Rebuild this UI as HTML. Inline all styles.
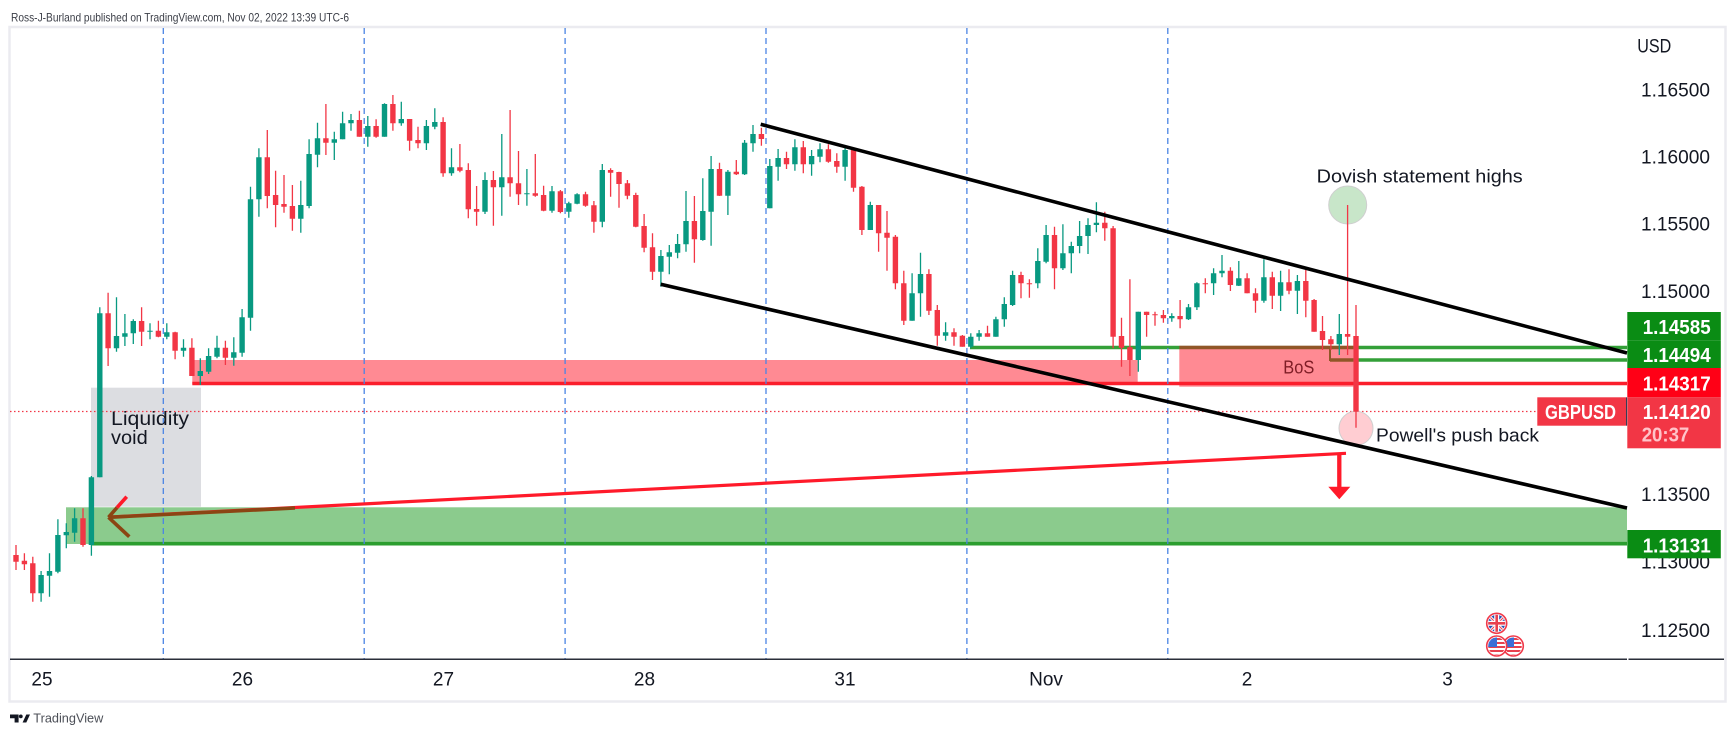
<!DOCTYPE html>
<html><head><meta charset="utf-8"><style>
html,body{margin:0;padding:0;background:#fff;}
svg{display:block;font-family:"Liberation Sans",sans-serif;}
</style></head><body>
<svg width="1735" height="738" viewBox="0 0 1735 738" xmlns="http://www.w3.org/2000/svg">
<rect x="0" y="0" width="1735" height="738" fill="#fff"/>
<text x="11" y="21.5" font-size="12" fill="#3b3e47" textLength="338" lengthAdjust="spacingAndGlyphs">Ross-J-Burland published on TradingView.com, Nov 02, 2022 13:39 UTC-6</text>
<rect x="9.5" y="27" width="1716" height="674.5" fill="none" stroke="#ebebf0" stroke-width="2.5"/>

<!-- zones -->
<rect x="66" y="507.3" width="1561" height="36.7" fill="rgb(139,203,141)"/>
<rect x="91" y="387.7" width="110" height="119" fill="#dcdde1"/>
<rect x="192.3" y="360" width="945.4" height="24" fill="rgba(255,0,20,0.46)"/>
<g stroke="#33a038" stroke-width="3.6">
<line x1="970" y1="347.5" x2="1627" y2="347.5"/>
<line x1="1330" y1="360" x2="1627" y2="360"/>
<line x1="1330" y1="348" x2="1330" y2="361" stroke-width="2"/>
<line x1="91.7" y1="543.7" x2="1627" y2="543.7" stroke="#2b9e2f"/>
</g>
<rect x="1179.3" y="345.7" width="174" height="41" fill="rgba(255,0,20,0.46)"/>
<line x1="192.3" y1="383.5" x2="1627" y2="383.5" stroke="#fb1e2c" stroke-width="3.5"/>

<!-- vertical dashed -->
<g stroke="#4a84e4" stroke-width="1.3" stroke-dasharray="6 4">
<line x1="163.3" y1="28" x2="163.3" y2="659"/>
<line x1="364.2" y1="28" x2="364.2" y2="659"/>
<line x1="565.1" y1="28" x2="565.1" y2="659"/>
<line x1="766" y1="28" x2="766" y2="659"/>
<line x1="966.9" y1="28" x2="966.9" y2="659"/>
<line x1="1167.8" y1="28" x2="1167.8" y2="659"/>
</g>
<line x1="10" y1="411.5" x2="1537" y2="411.5" stroke="#f23645" stroke-width="1.2" stroke-dasharray="1.5 2.5"/>

<!-- circles -->
<circle cx="1347.7" cy="205" r="19" fill="#c8e6c9" stroke="#cfcfcf" stroke-width="1"/>
<circle cx="1356" cy="428.3" r="17" fill="#ffcdd2" stroke="#cfcfcf" stroke-width="1"/>

<!-- candles -->
<path fill="none" stroke="#089981" stroke-width="1.3" d="M41.1 571V601.7M49.5 553.3V596.7M57.9 519.3V573.3M66.3 523.3V548.3M74.6 508.3V541.7M91.4 476V555.7M99.8 307.3V477.3M116.5 297.3V351.7M124.9 314V346M133.3 319.3V344M150 323.3V339.3M166.8 323.3V339.3M183.5 339.3V356.7M200.3 358.3V385M208.6 348.3V374M217 335.7V358.3M233.8 337.3V365.7M242.1 309V356.7M250.5 186.7V330.7M258.9 148.3V216.7M300.8 180.7V232.7M309.1 139.3V208.3M317.5 122.7V167.3M334.3 131.7V160M342.6 111.7V139.3M351 114V130.7M367.8 116V146.7M384.5 103.3V136.7M401.3 101.7V125.7M426.4 120V150M434.8 108.3V129.3M451.5 148.3V175.7M485 172.3V214M501.8 134V215.7M526.9 169V205.7M552 186V212.7M568.8 201.7V217.7M577.1 193.3V204.3M602.3 164V227.3M660.9 250V286.7M669.3 245V274.3M677.6 234V258.3M686 191V251.7M702.8 178.3V240.7M711.1 156V245.7M727.9 170V215M744.6 140V175M753 125V151.7M769.8 159V208.3M778.1 149V180.7M794.9 139.3V170.7M811.6 150V175.7M820 143.3V162.3M845.1 146.7V180.7M870.3 201.7V230M912.1 273.3V320.7M920.5 252.7V316.7M945.6 322.3V340.7M970.8 333.3V348.3M979.1 330V340.7M995.9 316.7V336.7M1004.3 297.3V326.7M1012.6 270.7V306M1037.8 248.3V288.3M1046.1 225V263.3M1062.9 224.3V270M1071.3 241.7V273.3M1079.6 221V253.3M1088 218.3V254M1096.4 202.3V232.3M1138.3 311.7V371.7M1171.8 313.3V321.7M1188.5 304V320M1196.9 282.3V310M1213.6 268.3V295M1222 255V277.3M1238.8 261V286M1263.9 259.3V302.7M1280.6 270.7V311M1297.4 275V314M1339.3 314V355"/>
<path fill="none" stroke="#089981" stroke-width="5.4" d="M41.1 575V593.3M49.5 571V575.7M57.9 535V571.7M66.3 532V535.3M74.6 518.3V532.7M91.4 477.3V545M99.8 313.3V477.3M116.5 336V348.3M124.9 333.3V336.7M133.3 321V333.3M150 330.7V331.7M166.8 332.3V336.7M183.5 347.7V350.7M200.3 371V376M208.6 356V371.7M217 347.7V356.7M233.8 352.3V357.7M242.1 317.3V352.7M250.5 199.3V317.7M258.9 157.3V199.3M300.8 205V218.7M309.1 154V206M317.5 138.3V154.7M334.3 139.3V142.7M342.6 123.3V139.3M351 120V123.3M367.8 126V136.7M384.5 104V136.7M401.3 119V123.3M426.4 126V143.3M434.8 122V126.7M451.5 167.3V173.3M485 180V211.7M501.8 177.3V187.3M526.9 193.3V194.3M552 191.3V210.7M568.8 203.3V211.7M577.1 194.3V203.7M602.3 170V221.7M660.9 256V271.7M669.3 252.3V256.7M677.6 244V252.7M686 221V244.3M702.8 211V240M711.1 169V211.7M727.9 171.7V195.7M744.6 142.7V174.3M753 134V143.3M769.8 166V208.3M778.1 158V166.7M794.9 147.3V164.3M811.6 156V164.3M820 149.3V156.7M845.1 150V166.7M870.3 205V230M912.1 293.3V320.7M920.5 274V293.3M945.6 332.3V335.7M970.8 336.7V346.7M979.1 333.3V336.7M995.9 319.3V336.7M1004.3 304V319.3M1012.6 275V305M1037.8 261V283.3M1046.1 235V261.7M1062.9 253.3V268.3M1071.3 246V253.3M1079.6 236V246M1088 225V236M1096.4 222.7V225M1138.3 311.7V360M1171.8 316V318.3M1188.5 307.3V319.3M1196.9 283.3V307.3M1213.6 273.3V283.3M1222 270.7V273.3M1238.8 278.3V285.7M1263.9 277.3V300.7M1280.6 282.3V295.7M1297.4 281V290.7M1339.3 334V344.3"/>
<path fill="none" stroke="#f23645" stroke-width="1.3" d="M16 545V570M24.4 553.3V570M32.8 556.7V601.7M83 508.3V546.7M108.1 292.7V366M141.6 307.3V346M158.4 320.7V337.3M175.1 331.7V359.3M191.9 338.3V376M225.4 340.7V365M267.3 130V208.3M275.6 170.7V227.3M284 175V212.7M292.4 185V230.7M325.9 104V155M359.4 110.7V136.7M376.1 119.3V137.7M392.9 95V130.7M409.6 119.3V150.7M418 126.7V148.3M443.1 117.3V176.7M459.9 144V172.3M468.3 163.3V218.3M476.6 186V225.7M493.4 171V225.7M510.1 110V196.7M518.5 151V205M535.3 154V196.7M543.6 185.7V211.3M560.4 190V213.3M585.5 191.7V206.7M593.9 201V232.7M610.6 168.3V196.7M619 171.7V207.7M627.4 180V199.3M635.8 192.7V227.3M644.1 214V252.3M652.5 233.3V280M694.4 196V262.7M719.5 162.7V196M736.3 160V175M761.4 127.7V145.7M786.5 151.7V169M803.3 141V173.3M828.4 144.3V162.7M836.8 153.3V172.7M853.5 148.3V191.7M861.9 186V235M878.6 205V251.7M887 211V270.7M895.4 235V289.3M903.8 270.7V325M928.9 269.3V315M937.3 305V345.7M954 328.3V345.7M962.4 335V346.7M987.5 325.7V336.7M1021 271.7V298.3M1029.4 279.3V297.7M1054.5 226.7V289.3M1104.8 211.7V240.7M1113.1 226V348.3M1121.5 317.7V366.7M1129.9 279.3V376M1146.6 311.7V336.7M1155 311.7V325.7M1163.4 310V322.7M1180.1 300V328.3M1205.3 278.3V293.3M1230.4 267.3V291M1247.1 273.3V293.3M1255.5 288.3V312.7M1272.3 271.7V309M1289 269.3V294.3M1305.8 270V317.3M1314.1 299V331.7M1322.5 316V350M1330.9 336V350M1347.6 205V355M1356 305V427.7"/>
<path fill="none" stroke="#f23645" stroke-width="5.4" d="M16 555V561.7M24.4 560.7V564.3M32.8 563.3V593.3M83 518.3V545M108.1 313.3V348.3M141.6 321V331.7M158.4 330.7V336.7M175.1 332.3V350.7M191.9 347.7V376M225.4 347.7V357.7M267.3 157.3V196M275.6 195V205M284 204V206.7M292.4 206V218.7M325.9 138.3V142.7M359.4 120V136.7M376.1 126V136.7M392.9 104V123.3M409.6 119V140.7M418 140V143.3M443.1 122V173.3M459.9 167.3V170.7M468.3 170V209.3M476.6 209V211.7M493.4 180V187.3M510.1 177.3V183.3M518.5 183.3V194.3M535.3 193.3V195.7M543.6 195V210.7M560.4 191.3V212M585.5 194.3V205.7M593.9 205.3V221.7M610.6 170V172.7M619 172V184M627.4 183.3V195.7M635.8 195V226.7M644.1 226V247.7M652.5 247.3V271.7M694.4 221V239.3M719.5 169V195.7M736.3 171.7V174.3M761.4 134V139M786.5 158V164.3M803.3 147.3V164.3M828.4 149.3V161.7M836.8 161V166.7M853.5 150V187.7M861.9 186.7V230M878.6 205V233.3M887 232.7V237.7M895.4 236.7V283.3M903.8 283.3V320.7M928.9 274V310.7M937.3 310V335.7M954 332.3V336.7M962.4 335.7V346.7M987.5 333.3V336.7M1021 275V283.3M1029.4 283.3V284.3M1054.5 235V268.3M1104.8 222.7V228.3M1113.1 228.3V336.7M1121.5 336V347.7M1129.9 347.3V360M1146.6 311.7V315M1155 314.3V315.3M1163.4 315V318.3M1180.1 316V319.3M1205.3 283.3V284.3M1230.4 270.7V285M1247.1 278.3V293.3M1255.5 293.3V300.7M1272.3 277.3V295.7M1289 282.3V290.7M1305.8 281V300.7M1314.1 300V331.7M1322.5 331V340M1330.9 339.3V344.3M1347.6 334V336.7M1356 336V411.7"/>

<!-- channel lines -->
<line x1="760.7" y1="124.3" x2="1627" y2="353" stroke="#000" stroke-width="3.6"/>
<line x1="660.7" y1="284.3" x2="1627" y2="508" stroke="#000" stroke-width="3.6"/>

<!-- red trend line + arrows -->
<line x1="110" y1="517" x2="1346" y2="453.3" stroke="#ff1a2a" stroke-width="3.2"/>
<line x1="108.5" y1="517.3" x2="295" y2="508" stroke="#8b4513" stroke-width="3.6"/>
<line x1="108.5" y1="517.3" x2="129.3" y2="536.7" stroke="#8b4513" stroke-width="3.6"/>
<line x1="108.5" y1="517.3" x2="117" y2="507.6" stroke="#8b4513" stroke-width="3.6"/>
<line x1="117" y1="507.6" x2="126.7" y2="496.7" stroke="#ff1a2a" stroke-width="3.6"/>
<line x1="1339.3" y1="453" x2="1339.3" y2="488" stroke="#ff1a2a" stroke-width="4.3"/>
<polygon points="1328.3,486.7 1350.3,486.7 1339.3,499.3" fill="#ff1a2a"/>

<!-- annotation texts -->
<text x="111" y="425" font-size="19" fill="#131722" textLength="78" lengthAdjust="spacingAndGlyphs">Liquidity</text>
<text x="111" y="444" font-size="19" fill="#131722" textLength="36.7" lengthAdjust="spacingAndGlyphs">void</text>
<text x="1316.7" y="182.5" font-size="18" fill="#131722" textLength="206" lengthAdjust="spacingAndGlyphs">Dovish statement highs</text>
<text x="1376" y="441.5" font-size="18" fill="#131722" textLength="163" lengthAdjust="spacingAndGlyphs">Powell's push back</text>
<text x="1283.3" y="373.3" font-size="18" fill="#7f1d26" textLength="31" lengthAdjust="spacingAndGlyphs">BoS</text>

<!-- flags -->
<defs>
<clipPath id="cu"><circle cx="1496.7" cy="623.3" r="8.5"/></clipPath>
<clipPath id="c1"><circle cx="1496.7" cy="646" r="8.5"/></clipPath>
<clipPath id="c2"><circle cx="1513.3" cy="646" r="8.5"/></clipPath>
</defs>
<g>
<circle cx="1513.3" cy="646" r="10" fill="#fff" stroke="#f0394a" stroke-width="1.6"/>
<g clip-path="url(#c2)">
<rect x="1504" y="637" width="20" height="20" fill="#fff"/>
<rect x="1504" y="638" width="20" height="2" fill="#e8404e"/><rect x="1504" y="642" width="20" height="2" fill="#e8404e"/><rect x="1504" y="646" width="20" height="2" fill="#e8404e"/><rect x="1504" y="650" width="20" height="2" fill="#e8404e"/><rect x="1504" y="654" width="20" height="2" fill="#e8404e"/>
<rect x="1504" y="637" width="10" height="10" fill="#3b6fd6"/>
</g>
<circle cx="1496.7" cy="646" r="10" fill="#fff" stroke="#f0394a" stroke-width="1.6"/>
<g clip-path="url(#c1)">
<rect x="1487" y="637" width="20" height="20" fill="#fff"/>
<rect x="1487" y="638" width="20" height="2" fill="#e8404e"/><rect x="1487" y="642" width="20" height="2" fill="#e8404e"/><rect x="1487" y="646" width="20" height="2" fill="#e8404e"/><rect x="1487" y="650" width="20" height="2" fill="#e8404e"/><rect x="1487" y="654" width="20" height="2" fill="#e8404e"/>
<rect x="1487" y="637" width="10" height="10" fill="#3b6fd6"/>
</g>
<circle cx="1496.7" cy="623.3" r="10" fill="#fff" stroke="#f0394a" stroke-width="1.6"/>
<g clip-path="url(#cu)">
<rect x="1487" y="614" width="20" height="20" fill="#2450b8"/>
<line x1="1487" y1="614" x2="1507" y2="634" stroke="#fff" stroke-width="3"/>
<line x1="1507" y1="614" x2="1487" y2="634" stroke="#fff" stroke-width="3"/>
<line x1="1487" y1="614" x2="1507" y2="634" stroke="#e8404e" stroke-width="1"/>
<line x1="1507" y1="614" x2="1487" y2="634" stroke="#e8404e" stroke-width="1"/>
<rect x="1494.2" y="614" width="5" height="20" fill="#fff"/>
<rect x="1487" y="620.8" width="20" height="5" fill="#fff"/>
<rect x="1495.4" y="614" width="2.6" height="20" fill="#e8404e"/>
<rect x="1487" y="622" width="20" height="2.6" fill="#e8404e"/>
</g>
</g>

<!-- axes -->
<line x1="10" y1="659.2" x2="1627" y2="659.2" stroke="#2a2e39" stroke-width="1.5"/>
<line x1="1628.5" y1="659.2" x2="1724" y2="659.2" stroke="#2a2e39" stroke-width="1.5"/>
<g font-size="19" fill="#131722" text-anchor="middle">
<text x="42" y="685.5">25</text>
<text x="242.5" y="685.5">26</text>
<text x="443.5" y="685.5">27</text>
<text x="644.5" y="685.5">28</text>
<text x="845" y="685.5">31</text>
<text x="1046" y="685.5">Nov</text>
<text x="1247" y="685.5">2</text>
<text x="1447.5" y="685.5">3</text>
</g>
<g font-size="19" fill="#131722">
<text x="1637.3" y="52.3" textLength="34" lengthAdjust="spacingAndGlyphs">USD</text>
</g>
<g font-size="19" fill="#131722" text-anchor="end">
<text x="1710" y="96.7" textLength="69" lengthAdjust="spacingAndGlyphs">1.16500</text>
<text x="1710" y="163.5" textLength="69" lengthAdjust="spacingAndGlyphs">1.16000</text>
<text x="1710" y="230.7" textLength="69" lengthAdjust="spacingAndGlyphs">1.15500</text>
<text x="1710" y="298.2" textLength="69" lengthAdjust="spacingAndGlyphs">1.15000</text>
<text x="1710" y="500.8" textLength="69" lengthAdjust="spacingAndGlyphs">1.13500</text>
<text x="1710" y="568.5" textLength="69" lengthAdjust="spacingAndGlyphs">1.13000</text>
<text x="1710" y="637" textLength="69" lengthAdjust="spacingAndGlyphs">1.12500</text>
</g>

<!-- price labels -->
<rect x="1627.3" y="312" width="93.5" height="28.3" fill="#0a8c14"/>
<rect x="1627.3" y="340.3" width="93.5" height="27.7" fill="#0a8c14"/>
<rect x="1627.3" y="368" width="93.5" height="29.3" fill="#ff0016"/>
<rect x="1627.3" y="397.3" width="93.5" height="51" fill="#f23645"/>
<rect x="1537.3" y="397.3" width="88.7" height="28.4" fill="#f23645"/>
<line x1="1626.6" y1="397.3" x2="1626.6" y2="425.7" stroke="#1f2a44" stroke-width="1"/>
<rect x="1627.3" y="530" width="93.5" height="28.3" fill="#0a8c14"/>
<g font-size="20" font-weight="bold" fill="#fff">
<text x="1642.7" y="334" textLength="68" lengthAdjust="spacingAndGlyphs">1.14585</text>
<text x="1642.7" y="362" textLength="68" lengthAdjust="spacingAndGlyphs">1.14494</text>
<text x="1642.7" y="390.7" textLength="68" lengthAdjust="spacingAndGlyphs">1.14317</text>
<text x="1642.7" y="419" textLength="68" lengthAdjust="spacingAndGlyphs">1.14120</text>
<text x="1641.7" y="441.7" textLength="47.6" lengthAdjust="spacingAndGlyphs" fill="#ffc3c9">20:37</text>
<text x="1545" y="419" textLength="71" lengthAdjust="spacingAndGlyphs">GBPUSD</text>
<text x="1642.7" y="552.3" textLength="68" lengthAdjust="spacingAndGlyphs">1.13131</text>
</g>

<!-- TradingView logo -->
<g fill="#131722">
<path d="M10 714.5H18.6V722.5H14.6V718.2H10Z"/>
<circle cx="20.8" cy="716.4" r="1.9"/>
<path d="M22.6 722.5L26.3 714.5H30L26.3 722.5Z"/>
</g>
<text x="33.3" y="722.3" font-size="12.5" fill="#4c4f57" textLength="70" lengthAdjust="spacingAndGlyphs">TradingView</text>
</svg>
</body></html>
